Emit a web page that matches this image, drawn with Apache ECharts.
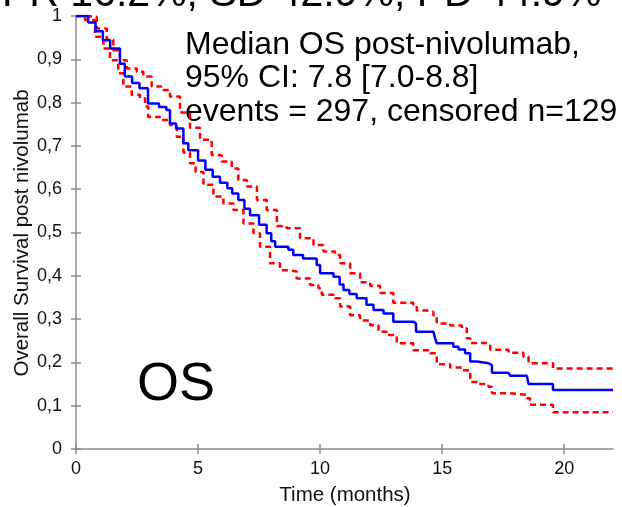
<!DOCTYPE html>
<html>
<head>
<meta charset="utf-8">
<script src="https://cdn.jsdelivr.net/npm/echarts@6/dist/echarts.min.js"></script>
<style>
html,body{margin:0;padding:0;background:#fff;}
#chart{width:622px;height:507px;}
</style>
</head>
<body>
<div id="chart"></div>
<script>
// ---- data ----
var medianTimes = [0, 0.5, 0.8, 1.1, 1.4, 1.8, 2.0, 2.3, 2.6, 2.95, 3.4, 3.7, 3.85, 4.1, 4.4, 4.6, 5.0, 5.3, 5.6, 5.9, 6.2, 6.4, 6.65, 6.9, 7.13, 7.5, 7.81, 8.0, 8.16, 8.7, 8.9, 9.3, 9.86, 10.0, 10.55, 10.8, 10.96, 11.2, 11.5, 11.9, 12.19, 12.6, 13.0, 13.83, 13.93, 14.64, 14.71, 14.78, 15.46, 15.67, 15.94, 16.15, 16.42, 16.9, 17.04, 17.72, 17.79, 18.47, 18.54, 19.54, 22];
var medianSurv  = [1.0, 0.985, 0.965, 0.944, 0.925, 0.89, 0.86, 0.845, 0.833, 0.798, 0.79, 0.783, 0.752, 0.74, 0.706, 0.69, 0.666, 0.645, 0.629, 0.615, 0.602, 0.59, 0.575, 0.555, 0.54, 0.518, 0.498, 0.48, 0.467, 0.46, 0.448, 0.44, 0.425, 0.406, 0.398, 0.38, 0.367, 0.358, 0.348, 0.333, 0.321, 0.313, 0.294, 0.290, 0.271, 0.267, 0.256, 0.244, 0.236, 0.230, 0.221, 0.202, 0.198, 0.194, 0.176, 0.175, 0.169, 0.166, 0.150, 0.136, 0.136];

var upperTimes = [0, 0.44, 0.85, 1.26, 1.53, 1.8, 2.08, 2.49, 2.76, 3.1, 3.58, 3.85, 4.26, 4.67, 5.08, 5.56, 5.97, 6.38, 6.65, 7.0, 7.41, 7.81, 8.23, 8.63, 9.18, 9.73, 10.14, 10.61, 10.82, 11.23, 11.64, 12.05, 12.46, 13.0, 13.82, 13.96, 14.37, 14.64, 14.78, 15.33, 15.81, 16.01, 16.15, 16.83, 16.97, 17.72, 18.33, 18.54, 19.54, 22];
var upperSurv  = [1.0, 0.998, 0.971, 0.945, 0.921, 0.898, 0.879, 0.871, 0.86, 0.837, 0.829, 0.814, 0.777, 0.742, 0.714, 0.679, 0.664, 0.648, 0.621, 0.606, 0.575, 0.552, 0.515, 0.51, 0.487, 0.471, 0.456, 0.448, 0.429, 0.406, 0.385, 0.377, 0.36, 0.338, 0.333, 0.32, 0.317, 0.309, 0.29, 0.285, 0.279, 0.256, 0.245, 0.242, 0.229, 0.222, 0.213, 0.198, 0.186, 0.186];

var lowerTimes = [0, 0.37, 0.78, 1.12, 1.39, 1.73, 1.94, 2.28, 2.62, 2.83, 2.96, 3.44, 3.85, 4.13, 4.4, 4.67, 4.9, 5.22, 5.63, 6.04, 6.45, 6.86, 7.27, 7.54, 7.95, 8.36, 8.7, 9.04, 9.59, 9.93, 10.07, 10.61, 10.82, 11.23, 11.64, 12.05, 12.39, 12.73, 13.14, 13.82, 14.51, 14.78, 15.33, 15.81, 16.15, 16.42, 16.9, 17.04, 17.72, 18.47, 18.6, 19.54, 22];
var lowerSurv  = [1.0, 0.991, 0.952, 0.925, 0.898, 0.868, 0.837, 0.818, 0.81, 0.791, 0.767, 0.76, 0.748, 0.721, 0.685, 0.66, 0.64, 0.61, 0.583, 0.567, 0.552, 0.521, 0.498, 0.467, 0.429, 0.413, 0.41, 0.394, 0.379, 0.371, 0.356, 0.348, 0.329, 0.309, 0.297, 0.286, 0.271, 0.263, 0.244, 0.228, 0.221, 0.196, 0.188, 0.182, 0.155, 0.150, 0.144, 0.129, 0.125, 0.117, 0.102, 0.085, 0.085];

var xTicks = [0, 5, 10, 15, 20];
var xTickLabels = ['0', '5', '10', '15', '20'];
var yTicks = [0, 0.1, 0.2, 0.3, 0.4, 0.5, 0.6, 0.7, 0.8, 0.9, 1];
var yTickLabels = ['0', '0,1', '0,2', '0,3', '0,4', '0,5', '0,6', '0,7', '0,8', '0,9', '1'];

var xTitle = 'Time (months)';
var yTitle = 'Overall Survival post nivolumab';
var topText = 'PR 16.2%, SD 42.9%, PD 44.9%';
var annotationLines = ['Median OS post-nivolumab,', '95% CI: 7.8 [7.0-8.8]', 'events = 297, censored n=129'];
var panelLabel = 'OS';

// ---- chart ----
function zip(a, b) { return a.map(function (v, i) { return [v, b[i]]; }); }
function labelFor(ticks, labels, v) {
  var best = 0, bd = Infinity;
  ticks.forEach(function (t, i) { var d = Math.abs(t - v); if (d < bd) { bd = d; best = i; } });
  return bd < 1e-6 ? labels[best] : '';
}
var FONT = '"Liberation Sans", Arial, sans-serif';
var axisColor = '#8c8c8c';

var chart = echarts.init(document.getElementById('chart'), null, { renderer: 'canvas' });
var baseX = {
  type: 'value', min: 0, max: 22, position: 'bottom',
  splitLine: { show: false },
  axisLine: { show: true, lineStyle: { color: axisColor, width: 1.5 } }
};
var baseY = {
  type: 'value', min: 0, max: 1, position: 'left',
  splitLine: { show: false },
  axisLine: { show: true, lineStyle: { color: axisColor, width: 1.5 } }
};
chart.setOption({
  animation: false,
  backgroundColor: '#fff',
  grid: { left: 76, right: 9, top: 16, bottom: 58, containLabel: false },
  xAxis: [
    Object.assign({}, baseX, {
      axisTick: { show: true, inside: false, length: 5, customValues: xTicks, lineStyle: { color: axisColor, width: 1.5 } },
      axisLabel: { show: true, customValues: xTicks, margin: 11, fontSize: 18, fontFamily: FONT, color: '#111',
        formatter: function (v) { return labelFor(xTicks, xTickLabels, v); } }
    }),
    Object.assign({}, baseX, {
      axisLine: { show: false },
      axisTick: { show: true, inside: true, length: 5, customValues: xTicks, lineStyle: { color: axisColor, width: 1.5 } },
      axisLabel: { show: false }
    })
  ],
  yAxis: [
    Object.assign({}, baseY, {
      axisTick: { show: true, inside: false, length: 5, customValues: yTicks, lineStyle: { color: axisColor, width: 1.5 } },
      axisLabel: { show: true, customValues: yTicks, margin: 14, fontSize: 18, fontFamily: FONT, color: '#111',
        formatter: function (v) { return labelFor(yTicks, yTickLabels, v); } }
    }),
    Object.assign({}, baseY, {
      axisLine: { show: false },
      axisTick: { show: true, inside: true, length: 5, customValues: yTicks, lineStyle: { color: axisColor, width: 1.5 } },
      axisLabel: { show: false }
    })
  ],
  series: [
    { name: 'upper', type: 'line', step: 'end', showSymbol: false, symbol: 'none', data: zip(upperTimes, upperSurv),
      lineStyle: { color: '#ff0000', width: 2.5, type: [6, 4] }, z: 2 },
    { name: 'lower', type: 'line', step: 'end', showSymbol: false, symbol: 'none', data: zip(lowerTimes, lowerSurv),
      lineStyle: { color: '#ff0000', width: 2.5, type: [6, 4] }, z: 2 },
    { name: 'median', type: 'line', step: 'end', showSymbol: false, symbol: 'none', data: zip(medianTimes, medianSurv),
      lineStyle: { color: '#0000ff', width: 2.5 }, z: 3 }
  ],
  graphic: [
    { type: 'text', x: 2, y: -5, style: { text: topText, font: '41px ' + FONT, fill: '#000', textVerticalAlign: 'middle' } },
    { type: 'text', x: 185, y: 45, style: { text: annotationLines[0], font: '32px ' + FONT, fill: '#000', textVerticalAlign: 'middle' } },
    { type: 'text', x: 185, y: 78, style: { text: annotationLines[1], font: '32px ' + FONT, fill: '#000', textVerticalAlign: 'middle' } },
    { type: 'text', x: 185, y: 112, style: { text: annotationLines[2], font: '32px ' + FONT, fill: '#000', textVerticalAlign: 'middle' } },
    { type: 'text', x: 137, y: 385, style: { text: panelLabel, font: '54px ' + FONT, fill: '#000', textVerticalAlign: 'middle' } },
    { type: 'text', x: 345, y: 495, style: { text: xTitle, font: '20.5px ' + FONT, fill: '#111', textAlign: 'center', textVerticalAlign: 'middle' } },
    { type: 'text', x: 22, y: 233, rotation: Math.PI / 2, style: { text: yTitle, font: '20.5px ' + FONT, fill: '#111', textAlign: 'center', textVerticalAlign: 'middle' } }
  ]
});
</script>
</body>
</html>
